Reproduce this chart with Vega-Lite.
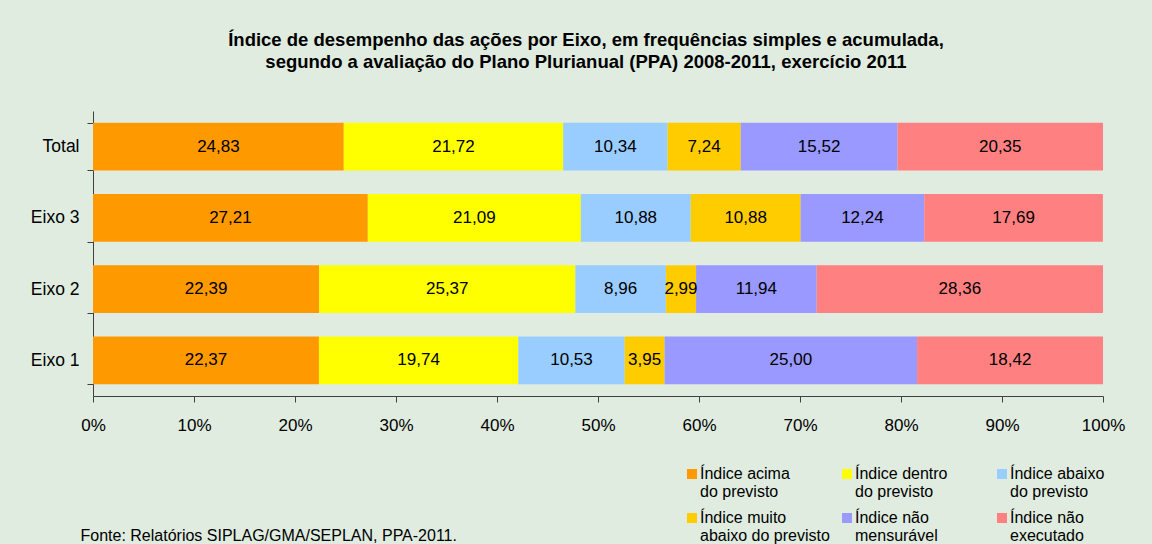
{
  "$schema": "https://vega.github.io/schema/vega-lite/v6.json",
  "autosize": {"type": "none"},
  "width": 1010,
  "height": 285,
  "padding": {"left": 93, "top": 111, "right": 49, "bottom": 148},
  "background": "#DFECDF",
  "title": {
    "text": ["Índice de desempenho das ações por Eixo, em frequências simples e acumulada,", "segundo a  avaliação do Plano Plurianual (PPA) 2008-2011, exercício 2011"],
    "font": "Liberation Sans",
    "fontSize": 18.5,
    "fontWeight": "bold",
    "color": "#000000",
    "anchor": "middle",
    "dx": -12,
    "offset": 31,
    "lineHeight": 22
  },
  "data": {
    "values": [
      {"eixo": "Total", "cat": "Índice acima do previsto", "o": 1, "v": 24.83},
      {"eixo": "Total", "cat": "Índice dentro do previsto", "o": 2, "v": 21.72},
      {"eixo": "Total", "cat": "Índice abaixo do previsto", "o": 3, "v": 10.34},
      {"eixo": "Total", "cat": "Índice muito abaixo do previsto", "o": 4, "v": 7.24},
      {"eixo": "Total", "cat": "Índice não mensurável", "o": 5, "v": 15.52},
      {"eixo": "Total", "cat": "Índice não executado", "o": 6, "v": 20.35},
      {"eixo": "Eixo 3", "cat": "Índice acima do previsto", "o": 1, "v": 27.21},
      {"eixo": "Eixo 3", "cat": "Índice dentro do previsto", "o": 2, "v": 21.09},
      {"eixo": "Eixo 3", "cat": "Índice abaixo do previsto", "o": 3, "v": 10.88},
      {"eixo": "Eixo 3", "cat": "Índice muito abaixo do previsto", "o": 4, "v": 10.88},
      {"eixo": "Eixo 3", "cat": "Índice não mensurável", "o": 5, "v": 12.24},
      {"eixo": "Eixo 3", "cat": "Índice não executado", "o": 6, "v": 17.69},
      {"eixo": "Eixo 2", "cat": "Índice acima do previsto", "o": 1, "v": 22.39},
      {"eixo": "Eixo 2", "cat": "Índice dentro do previsto", "o": 2, "v": 25.37},
      {"eixo": "Eixo 2", "cat": "Índice abaixo do previsto", "o": 3, "v": 8.96},
      {"eixo": "Eixo 2", "cat": "Índice muito abaixo do previsto", "o": 4, "v": 2.99},
      {"eixo": "Eixo 2", "cat": "Índice não mensurável", "o": 5, "v": 11.94},
      {"eixo": "Eixo 2", "cat": "Índice não executado", "o": 6, "v": 28.36},
      {"eixo": "Eixo 1", "cat": "Índice acima do previsto", "o": 1, "v": 22.37},
      {"eixo": "Eixo 1", "cat": "Índice dentro do previsto", "o": 2, "v": 19.74},
      {"eixo": "Eixo 1", "cat": "Índice abaixo do previsto", "o": 3, "v": 10.53},
      {"eixo": "Eixo 1", "cat": "Índice muito abaixo do previsto", "o": 4, "v": 3.95},
      {"eixo": "Eixo 1", "cat": "Índice não mensurável", "o": 5, "v": 25.00},
      {"eixo": "Eixo 1", "cat": "Índice não executado", "o": 6, "v": 18.42}
    ]
  },
  "transform": [
    {"stack": "v", "groupby": ["eixo"], "sort": [{"field": "o", "order": "ascending"}], "as": ["x0", "x1"]},
    {"calculate": "(datum.x0 + datum.x1) / 2", "as": "mid"}
  ],
  "encoding": {
    "y": {
      "field": "eixo",
      "type": "nominal",
      "sort": ["Total", "Eixo 3", "Eixo 2", "Eixo 1"],
      "scale": {"paddingInner": 0.33, "paddingOuter": 0.165},
      "axis": {
        "title": null,
        "tickBand": "extent",
        "domainColor": "#404040",
        "tickColor": "#404040",
        "tickSize": 6,
        "labelPadding": 8,
        "labelFont": "Liberation Sans",
        "labelFontSize": 17.5,
        "labelColor": "#000000"
      }
    }
  },
  "layer": [
    {
      "mark": {"type": "bar"},
      "encoding": {
        "x": {
          "field": "x0",
          "type": "quantitative",
          "scale": {"domain": [0, 100], "nice": false, "clamp": true},
          "axis": {
            "values": [0, 10, 20, 30, 40, 50, 60, 70, 80, 90, 100],
            "labelExpr": "datum.value + '%'",
            "grid": false,
            "domainColor": "#404040",
            "tickColor": "#404040",
            "tickSize": 6,
            "labelPadding": 15,
            "labelFont": "Liberation Sans",
            "labelFontSize": 17,
            "labelColor": "#000000",
            "labelFlush": false,
            "title": "Fonte: Relatórios SIPLAG/GMA/SEPLAN, PPA-2011.",
            "titleFont": "Liberation Sans",
            "titleFontSize": 16,
            "titleFontWeight": "normal",
            "titleColor": "#000000",
            "titleAnchor": "start",
            "titleAlign": "left",
            "titleBaseline": "middle",
            "titleX": -13,
            "titleY": 139
          }
        },
        "x2": {"field": "x1"},
        "color": {
          "field": "cat",
          "type": "nominal",
          "scale": {
            "domain": ["Índice acima do previsto", "Índice dentro do previsto", "Índice abaixo do previsto", "Índice muito abaixo do previsto", "Índice não mensurável", "Índice não executado"],
            "range": ["#FF9900", "#FFFF00", "#99CCFF", "#FFCC00", "#9999FF", "#FF8080"]
          },
          "legend": {
            "title": null,
            "orient": "none",
            "legendX": 591,
            "legendY": 355,
            "columns": 3,
            "gridAlign": "all",
            "direction": "horizontal",
            "symbolType": "square",
            "symbolSize": 100,
            "symbolStrokeWidth": 0,
            "labelExpr": "[join(slice(split(datum.label, ' '), 0, 2), ' '), join(slice(split(datum.label, ' '), 2), ' ')]",
            "labelFont": "Liberation Sans",
            "labelFontSize": 16,
            "labelColor": "#000000",
            "labelOffset": 0,
            "labelLimit": 300,
            "columnPadding": 9,
            "rowPadding": 10
          }
        }
      }
    },
    {
      "mark": {"type": "text", "font": "Liberation Sans", "fontSize": 17, "color": "#000000"},
      "encoding": {
        "x": {"field": "mid", "type": "quantitative"},
        "text": {"field": "v", "type": "quantitative", "format": ".2f"}
      }
    }
  ],
  "config": {
    "view": {"stroke": null},
    "locale": {"number": {"decimal": ",", "thousands": ".", "grouping": [3], "currency": ["R$", ""]}}
  }
}
